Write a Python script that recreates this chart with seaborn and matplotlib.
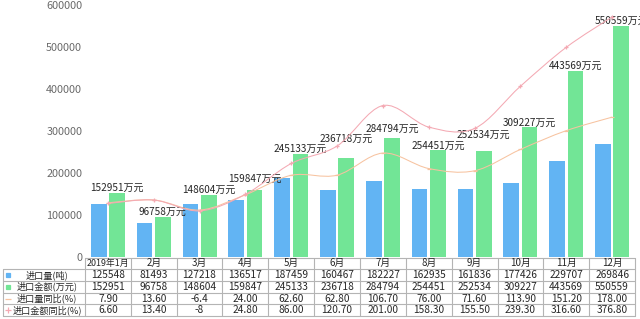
import numpy as np
import pandas as pd
import matplotlib
matplotlib.use("Agg")
import matplotlib.pyplot as plt
import seaborn as sns
from matplotlib.path import Path
from matplotlib.patches import PathPatch
from matplotlib.lines import Line2D
from matplotlib.transforms import blended_transform_factory

# ---------------- data ----------------
months = ["2019年1月", "2月", "3月", "4月", "5月", "6月", "7月", "8月", "9月", "10月", "11月", "12月"]
volume = [125548, 81493, 127218, 136517, 187459, 160467, 182227, 162935, 161836, 177426, 229707, 269846]
amount = [152951, 96758, 148604, 159847, 245133, 236718, 284794, 254451, 252534, 309227, 443569, 550559]
volume_yoy = [7.90, 13.60, -6.4, 24.00, 62.60, 62.80, 106.70, 76.00, 71.60, 113.90, 151.20, 178.00]
amount_yoy = [6.60, 13.40, -8, 24.80, 86.00, 120.70, 201.00, 158.30, 155.50, 239.30, 316.60, 376.80]
volume_yoy_text = ["7.90", "13.60", "-6.4", "24.00", "62.60", "62.80", "106.70", "76.00", "71.60", "113.90", "151.20", "178.00"]
amount_yoy_text = ["6.60", "13.40", "-8", "24.80", "86.00", "120.70", "201.00", "158.30", "155.50", "239.30", "316.60", "376.80"]
series_names = ["进口量(吨)", "进口金额(万元)", "进口量同比(%)", "进口金额同比(%)"]
yticks = [0, 100000, 200000, 300000, 400000, 500000, 600000]

# ---------------- style ----------------
sns.set_style("white")
plt.rcParams["font.family"] = ["Noto Sans CJK SC", "DejaVu Sans"]

BLUE = "#62b4f3"
GREEN = "#72e596"
ORANGE = "#f7c3a0"
PINK = "#f4a9b3"
GRID = "#b4b4b4"
TXT = "#262626"

W, H = 640, 319
fig = plt.figure(figsize=(W / 100, H / 100), dpi=100)
ax_left, ax_right, ax_top, ax_bottom = 85, 635, 5.3, 257.2
ax = fig.add_axes([ax_left / W, 1 - ax_bottom / H, (ax_right - ax_left) / W, (ax_bottom - ax_top) / H])

df = pd.DataFrame({
    "month": months * 2,
    "value": volume + amount,
    "series": [series_names[0]] * 12 + [series_names[1]] * 12,
})
sns.barplot(data=df, x="month", y="value", hue="series", order=months,
            hue_order=series_names[:2], palette=[BLUE, GREEN], saturation=1,
            width=0.8, gap=0.14, linewidth=0, ax=ax, legend=False)

ax.set_xlim(-0.5, 11.5)
ax.set_ylim(0, 600000)
ax.set_yticks(yticks)
ax.set_yticklabels([str(t) for t in yticks])
ax.tick_params(axis="y", length=0, pad=2, labelsize=7.8, labelcolor="#6a6a6a")
ax.set_xticks([])
ax.set_xlabel("")
ax.set_ylabel("")
sns.despine(ax=ax, left=True, bottom=True, top=True, right=True)

# data labels on green bars
label_lift = [0, 0, 0, 6, 0, 14, 4, 0, 11, 0, 0, 0]
for i, v in enumerate(amount):
    ax.annotate(f"{v}万元", xy=(i + 0.2, v), xytext=(0, label_lift[i]),
                textcoords="offset pixels", ha="center", va="bottom",
                fontsize=7.2, color=TXT, annotation_clip=False, zorder=5)

# secondary (hidden) axis for yoy lines
ax2 = ax.twinx()
ax2.set_ylim(-100, 400)
ax2.set_xlim(-0.5, 11.5)
ax2.set_axis_off()


def smooth_path(xs, ys):
    pts = np.column_stack([xs, ys]).astype(float)
    n = len(pts)
    verts = [pts[0]]
    codes = [Path.MOVETO]
    for i in range(n - 1):
        p0 = pts[i - 1] if i > 0 else pts[i]
        p1 = pts[i]
        p2 = pts[i + 1]
        p3 = pts[i + 2] if i + 2 < n else pts[i + 1]
        verts += [p1 + (p2 - p0) / 6, p2 - (p3 - p1) / 6, p2]
        codes += [Path.CURVE4] * 3
    return Path(verts, codes)


xs = np.arange(len(months))
for vals, col, mk in [(volume_yoy, ORANGE, "_"), (amount_yoy, PINK, "+")]:
    ax2.add_patch(PathPatch(smooth_path(xs, vals), facecolor="none", edgecolor=col, lw=0.75))
    ax2.plot(xs, vals, linestyle="none", marker=mk, markersize=3.2, color=col, mew=0.9)

# ---------------- data table ----------------
def fy(py):
    return 1 - py / H


def fx(px):
    return px / W


tr = blended_transform_factory(ax.transData, fig.transFigure)
trf = fig.transFigure
row_edges = [257.7, 269.0, 281.0, 292.6, 304.4, 316.0]
col_edges = np.arange(-0.5, 12.0, 1.0)
lbl_left = 3.3

# horizontal lines
fig.add_artist(Line2D([-0.5, 11.5], [fy(row_edges[0])] * 2, transform=tr, color=GRID, lw=0.8))
for r in row_edges[1:]:
    fig.add_artist(Line2D([fx(lbl_left), fx(ax_right)], [fy(r)] * 2, transform=trf, color=GRID, lw=0.8))
# vertical lines
for c in col_edges:
    fig.add_artist(Line2D([c, c], [fy(row_edges[0]), fy(row_edges[-1])], transform=tr, color=GRID, lw=0.8))
fig.add_artist(Line2D([fx(lbl_left)] * 2, [fy(row_edges[1]), fy(row_edges[-1])], transform=trf, color=GRID, lw=0.8))

# header
for i, m in enumerate(months):
    yc = fy((row_edges[0] + row_edges[1]) / 2)
    fig.text(i, yc, m, transform=tr, ha="center", va="center",
             fontsize=6.4 if i == 0 else 7.0, color=TXT)

rows = [
    [str(v) for v in volume],
    [str(v) for v in amount],
    volume_yoy_text,
    amount_yoy_text,
]
marker_specs = [("s", BLUE, 2.6), ("s", GREEN, 2.6), ("_", ORANGE, 4), ("+", PINK, 4)]
for r, vals in enumerate(rows):
    yc = fy((row_edges[r + 1] + row_edges[r + 2]) / 2)
    for i, t in enumerate(vals):
        fig.text(i, yc, t, transform=tr, ha="center", va="center", fontsize=7.3, color=TXT)
    fig.text(fx(47), yc, series_names[r], transform=trf, ha="center", va="center",
             fontsize=6.6, color=TXT)
    mk, col, ms = marker_specs[r]
    fig.add_artist(Line2D([fx(8)], [yc], transform=trf, linestyle="none", marker=mk,
                          markersize=ms, color=col, mew=0.9))

fig.savefig("out.png", dpi=100)
